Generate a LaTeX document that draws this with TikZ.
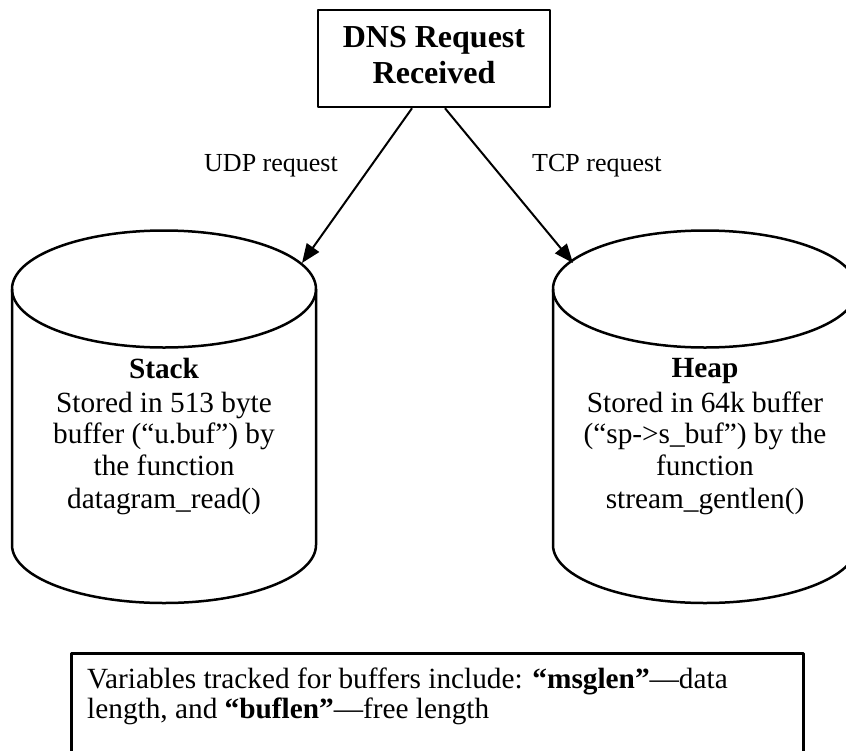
\documentclass[tikz,border=0pt]{standalone}
\usepackage{fontspec}
\setmainfont{Liberation Serif}
\usetikzlibrary{arrows.meta}
\begin{document}
\begin{tikzpicture}[x=1pt,y=-1pt,line join=round,
  outline/.style={line width=2.5pt},
  conn/.style={line width=2pt,-{Triangle[length=19pt,width=15pt]}},
  titletext/.style={font=\fontsize{32}{36}\selectfont\bfseries,anchor=base,inner sep=0pt},
  bodytext/.style={font=\fontsize{29.3}{32}\selectfont,anchor=base,inner sep=0pt},
  boldbody/.style={font=\fontsize{29.3}{32}\selectfont\bfseries,anchor=base,inner sep=0pt},
  labeltext/.style={font=\fontsize{26}{30}\selectfont,inner sep=0pt},
  notetext/.style={font=\fontsize{29.3}{30}\selectfont,anchor=base west,inner sep=0pt}]
\useasboundingbox (0,0) rectangle (846,750);
\clip (0,0) rectangle (846,750);

% top box
\node[draw,outline,minimum width=232pt,minimum height=97pt,inner sep=0pt] (dns) at (434,58.5) {};
\node[titletext] (dnsA) at (434,47) {DNS Request};
\node[titletext] (dnsB) at (434,83) {Received};

% cylinders
\draw[outline] (12,289) -- (12,545) arc[start angle=180,end angle=0,x radius=152,y radius=58] -- (316,289);
\draw[outline] (164,289) ellipse[x radius=152,y radius=58.5];
\draw[outline] (553,289) -- (553,545) arc[start angle=180,end angle=0,x radius=152,y radius=58] -- (857,289);
\draw[outline] (705,289) ellipse[x radius=152,y radius=58.5];

\coordinate (stacktop) at (302,263);
\coordinate (heaptop) at (573,263);
\coordinate (udpstart) at ([xshift=-22pt]dns.south);
\coordinate (tcpstart) at ([xshift=11pt]dns.south);

% connectors
\draw[conn] (udpstart) -- (stacktop);
\draw[conn] (tcpstart) -- (heaptop);
\node[labeltext,anchor=base east] (udp) at (338,171) {UDP request};
\node[labeltext,anchor=base west] (tcp) at (532,171) {TCP request};

% stack text
\node[boldbody] (s1) at (164,378) {Stack};
\node[bodytext] (s2) at (164,412) {Stored in 513 byte};
\node[bodytext] (s3) at (164,443) {buffer (“u.buf”) by};
\node[bodytext] (s4) at (164,475) {the function};
\node[bodytext] (s5) at (164,508) {datagram\_read()};

% heap text
\node[boldbody] (h1) at (705,377) {Heap};
\node[bodytext] (h2) at (705,412) {Stored in 64k buffer};
\node[bodytext] (h3) at (705,443) {(“sp->s\_buf”) by the};
\node[bodytext] (h4) at (705,475) {function};
\node[bodytext] (h5) at (705,508) {stream\_gentlen()};

% note box
\node[draw,outline,minimum width=732pt,minimum height=130pt,inner sep=0pt,anchor=north west] (note) at (70,652) {};
\node[notetext] (n1) at (87,688) {Variables tracked for buffers include: \textbf{“msglen”}—data};
\node[notetext] (n2) at (87,718) {length, and \textbf{“buflen”}—free length};
\end{tikzpicture}
\end{document}
